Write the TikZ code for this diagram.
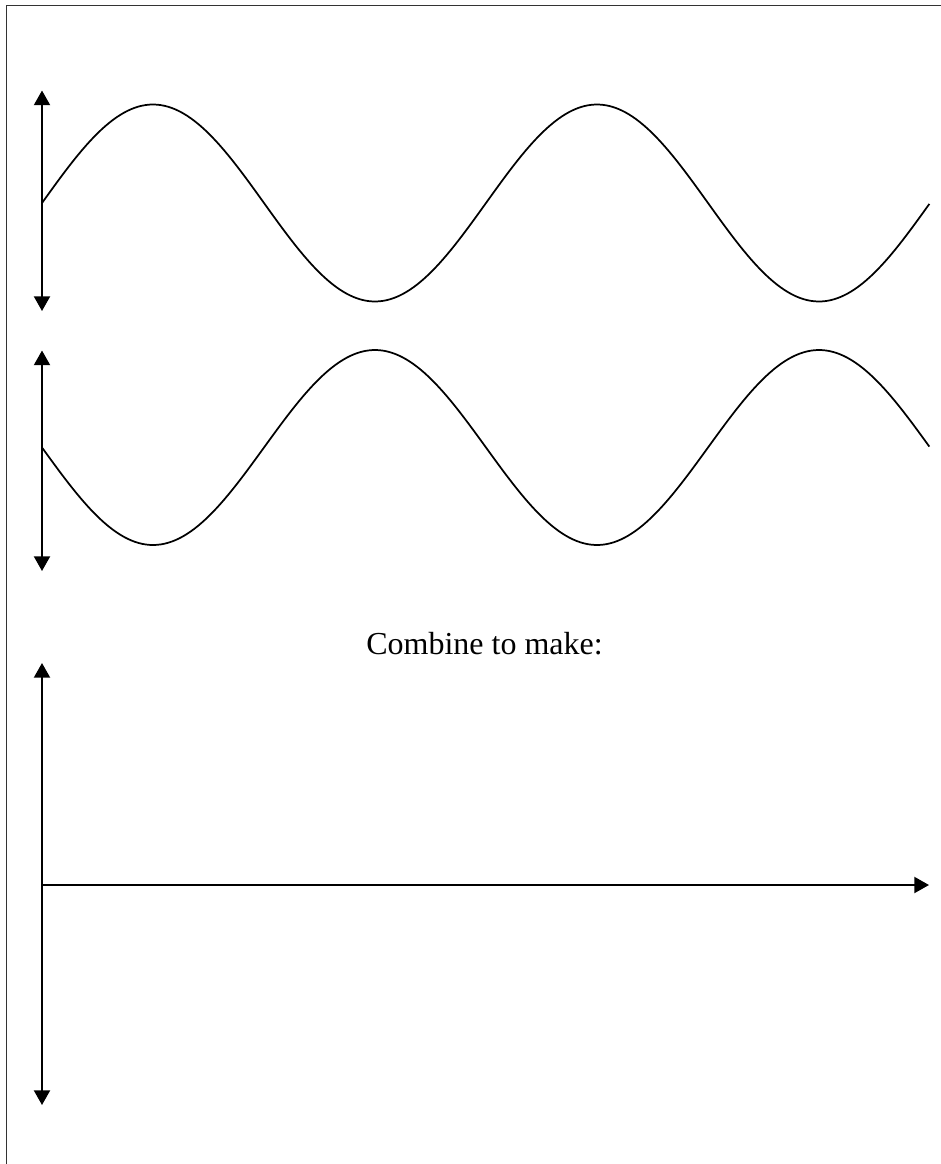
\documentclass[tikz,border=0pt]{standalone}
\usepackage{fontspec}
\setmainfont{Liberation Serif}
\usetikzlibrary{arrows.meta}
\begin{document}
\begin{tikzpicture}[x=0.75pt,y=-0.75pt,
  axisline/.style={line width=1.5pt,{Triangle[width=12pt,length=11pt]}-{Triangle[width=12pt,length=11pt]}},
  oneway/.style={line width=1.5pt,-{Triangle[width=12pt,length=11pt]}},
  wave/.style={line width=1.3pt,line join=round},
  frameline/.style={line width=1.2pt,draw=black!80}]
\useasboundingbox (0,0) rectangle (940,1164);
% frame (left and top edges visible)
\coordinate (fbl) at (6.5,1170);
\coordinate (ftl) at (6.5,5.5);
\coordinate (ftr) at (946,5.5);
\draw[frameline] (fbl) -- (ftl) -- (ftr);
% first wave
\coordinate (a1t) at (42,90.5);
\coordinate (a1b) at (42,311);
\draw[axisline] (a1b) -- (a1t);
\draw[wave] plot[domain=0:2,samples=240] ({42+444*\x},{203-98.5*sin(360*\x)});
% second wave
\coordinate (a2t) at (42,350.5);
\coordinate (a2b) at (42,571);
\draw[axisline] (a2b) -- (a2t);
\draw[wave] plot[domain=0:2,samples=240] ({42+444*\x},{447.5+97.5*sin(360*\x)});
% text
\node[anchor=base,inner sep=0pt,font=\fontsize{24pt}{28pt}\selectfont] (lbl) at (484.5,654) {Combine to make:};
% empty axes
\coordinate (a3t) at (42,663);
\coordinate (a3b) at (42,1105);
\coordinate (ho) at (42,885);
\coordinate (he) at (929,885);
\draw[axisline] (a3b) -- (a3t);
\draw[oneway] (ho) -- (he);
\end{tikzpicture}
\end{document}
